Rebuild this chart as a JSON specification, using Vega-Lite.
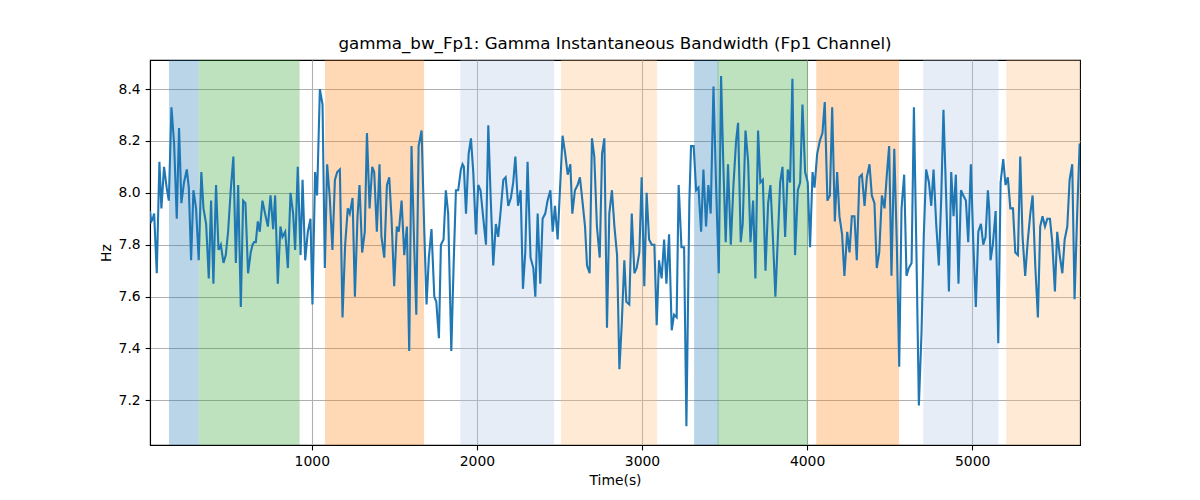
{
  "$schema": "https://vega.github.io/schema/vega-lite/v6.json",
  "autosize": {"type": "none"},
  "width": 930,
  "height": 385,
  "padding": {"left": 150, "top": 60, "right": 120, "bottom": 55},
  "background": "white",
  "title": {
    "text": "gamma_bw_Fp1: Gamma Instantaneous Bandwidth (Fp1 Channel)",
    "font": "DejaVu Sans",
    "fontSize": 16.7,
    "fontWeight": "normal",
    "color": "black",
    "offset": 7
  },
  "datasets": {
    "bands": [
      {"start": 138, "end": 313, "kind": "S1"},
      {"start": 320, "end": 923, "kind": "S2"},
      {"start": 1083, "end": 1677, "kind": "S3"},
      {"start": 1903, "end": 2465, "kind": "S4"},
      {"start": 2513, "end": 3089, "kind": "S5"},
      {"start": 3319, "end": 3461, "kind": "S1"},
      {"start": 3461, "end": 4002, "kind": "S2"},
      {"start": 4059, "end": 4554, "kind": "S3"},
      {"start": 4707, "end": 5156, "kind": "S4"},
      {"start": 5210, "end": 5653, "kind": "S5"}
    ],
    "signal": [
      {"t": 20, "hz": 7.93}, {"t": 28, "hz": 7.89}, {"t": 37, "hz": 7.90}, {"t": 45, "hz": 7.92},
      {"t": 61, "hz": 7.69}, {"t": 77, "hz": 8.12}, {"t": 89, "hz": 7.94}, {"t": 105, "hz": 8.10},
      {"t": 121, "hz": 8.02}, {"t": 134, "hz": 7.97}, {"t": 150, "hz": 8.33}, {"t": 166, "hz": 8.19},
      {"t": 182, "hz": 7.90}, {"t": 196, "hz": 8.25}, {"t": 210, "hz": 7.96}, {"t": 226, "hz": 8.04},
      {"t": 243, "hz": 8.09}, {"t": 255, "hz": 8.02}, {"t": 269, "hz": 7.74}, {"t": 283, "hz": 8.01},
      {"t": 299, "hz": 7.94}, {"t": 315, "hz": 7.74}, {"t": 331, "hz": 8.08}, {"t": 344, "hz": 7.94},
      {"t": 360, "hz": 7.88}, {"t": 376, "hz": 7.67}, {"t": 390, "hz": 7.97}, {"t": 404, "hz": 7.65},
      {"t": 420, "hz": 8.03}, {"t": 435, "hz": 7.78}, {"t": 449, "hz": 7.80}, {"t": 465, "hz": 7.73},
      {"t": 479, "hz": 7.76}, {"t": 493, "hz": 7.85}, {"t": 509, "hz": 8.01}, {"t": 525, "hz": 8.14},
      {"t": 540, "hz": 7.73}, {"t": 554, "hz": 8.03}, {"t": 570, "hz": 7.56}, {"t": 584, "hz": 7.97},
      {"t": 598, "hz": 7.96}, {"t": 614, "hz": 7.69}, {"t": 630, "hz": 7.77}, {"t": 641, "hz": 7.80},
      {"t": 651, "hz": 7.81}, {"t": 661, "hz": 7.81}, {"t": 673, "hz": 7.89}, {"t": 685, "hz": 7.85},
      {"t": 701, "hz": 7.97}, {"t": 717, "hz": 7.92}, {"t": 734, "hz": 7.87}, {"t": 750, "hz": 7.99},
      {"t": 766, "hz": 7.86}, {"t": 778, "hz": 7.99}, {"t": 794, "hz": 7.65}, {"t": 810, "hz": 7.87},
      {"t": 822, "hz": 7.83}, {"t": 839, "hz": 7.85}, {"t": 855, "hz": 7.71}, {"t": 871, "hz": 8.00},
      {"t": 887, "hz": 7.92}, {"t": 899, "hz": 7.78}, {"t": 915, "hz": 8.10}, {"t": 932, "hz": 7.76},
      {"t": 944, "hz": 8.05}, {"t": 960, "hz": 7.74}, {"t": 976, "hz": 7.85}, {"t": 992, "hz": 7.90},
      {"t": 1004, "hz": 7.57}, {"t": 1020, "hz": 8.08}, {"t": 1032, "hz": 7.99}, {"t": 1049, "hz": 8.40},
      {"t": 1065, "hz": 8.34}, {"t": 1079, "hz": 7.71}, {"t": 1093, "hz": 8.11}, {"t": 1109, "hz": 7.98},
      {"t": 1125, "hz": 7.78}, {"t": 1140, "hz": 8.05}, {"t": 1154, "hz": 8.08}, {"t": 1170, "hz": 8.09},
      {"t": 1186, "hz": 7.52}, {"t": 1202, "hz": 7.80}, {"t": 1218, "hz": 7.94}, {"t": 1230, "hz": 7.92},
      {"t": 1247, "hz": 7.98}, {"t": 1261, "hz": 7.60}, {"t": 1277, "hz": 7.91}, {"t": 1289, "hz": 8.03},
      {"t": 1305, "hz": 7.77}, {"t": 1321, "hz": 7.85}, {"t": 1334, "hz": 8.23}, {"t": 1350, "hz": 7.94},
      {"t": 1366, "hz": 8.10}, {"t": 1378, "hz": 8.08}, {"t": 1394, "hz": 7.85}, {"t": 1410, "hz": 8.11},
      {"t": 1422, "hz": 7.83}, {"t": 1439, "hz": 7.75}, {"t": 1455, "hz": 8.03}, {"t": 1469, "hz": 8.06},
      {"t": 1483, "hz": 7.90}, {"t": 1499, "hz": 7.64}, {"t": 1515, "hz": 7.87}, {"t": 1527, "hz": 7.85},
      {"t": 1544, "hz": 7.97}, {"t": 1560, "hz": 7.76}, {"t": 1576, "hz": 7.87}, {"t": 1590, "hz": 7.39},
      {"t": 1604, "hz": 8.18}, {"t": 1620, "hz": 7.80}, {"t": 1633, "hz": 7.53}, {"t": 1647, "hz": 8.18},
      {"t": 1665, "hz": 8.24}, {"t": 1681, "hz": 7.86}, {"t": 1695, "hz": 7.57}, {"t": 1709, "hz": 7.75},
      {"t": 1725, "hz": 7.86}, {"t": 1742, "hz": 7.60}, {"t": 1754, "hz": 7.58}, {"t": 1770, "hz": 7.44},
      {"t": 1782, "hz": 7.80}, {"t": 1798, "hz": 7.82}, {"t": 1812, "hz": 8.01}, {"t": 1826, "hz": 7.92},
      {"t": 1845, "hz": 7.39}, {"t": 1859, "hz": 7.72}, {"t": 1873, "hz": 8.01}, {"t": 1887, "hz": 8.01},
      {"t": 1903, "hz": 8.09}, {"t": 1913, "hz": 8.11}, {"t": 1921, "hz": 8.10}, {"t": 1934, "hz": 7.92},
      {"t": 1950, "hz": 8.15}, {"t": 1964, "hz": 8.21}, {"t": 1978, "hz": 8.08}, {"t": 1994, "hz": 7.84},
      {"t": 2008, "hz": 8.03}, {"t": 2022, "hz": 8.01}, {"t": 2039, "hz": 7.90}, {"t": 2055, "hz": 7.80},
      {"t": 2069, "hz": 8.26}, {"t": 2083, "hz": 7.99}, {"t": 2099, "hz": 7.72}, {"t": 2115, "hz": 7.88},
      {"t": 2129, "hz": 7.83}, {"t": 2144, "hz": 7.93}, {"t": 2160, "hz": 8.05}, {"t": 2174, "hz": 8.06},
      {"t": 2190, "hz": 7.95}, {"t": 2206, "hz": 7.98}, {"t": 2220, "hz": 8.04}, {"t": 2233, "hz": 8.14},
      {"t": 2249, "hz": 7.95}, {"t": 2265, "hz": 8.01}, {"t": 2279, "hz": 7.63}, {"t": 2293, "hz": 7.77},
      {"t": 2307, "hz": 8.12}, {"t": 2325, "hz": 7.75}, {"t": 2342, "hz": 7.71}, {"t": 2354, "hz": 7.60},
      {"t": 2368, "hz": 7.92}, {"t": 2384, "hz": 7.65}, {"t": 2398, "hz": 7.90}, {"t": 2414, "hz": 7.92},
      {"t": 2428, "hz": 7.97}, {"t": 2445, "hz": 8.01}, {"t": 2459, "hz": 7.85}, {"t": 2473, "hz": 7.95},
      {"t": 2489, "hz": 7.82}, {"t": 2503, "hz": 8.01}, {"t": 2519, "hz": 8.22}, {"t": 2535, "hz": 8.15},
      {"t": 2550, "hz": 8.07}, {"t": 2566, "hz": 8.11}, {"t": 2578, "hz": 7.92}, {"t": 2594, "hz": 8.01},
      {"t": 2610, "hz": 8.03}, {"t": 2624, "hz": 8.06}, {"t": 2639, "hz": 7.97}, {"t": 2655, "hz": 7.87},
      {"t": 2667, "hz": 7.72}, {"t": 2683, "hz": 7.69}, {"t": 2697, "hz": 8.21}, {"t": 2711, "hz": 8.14},
      {"t": 2727, "hz": 7.87}, {"t": 2744, "hz": 7.75}, {"t": 2758, "hz": 8.15}, {"t": 2772, "hz": 8.21},
      {"t": 2788, "hz": 7.48}, {"t": 2802, "hz": 7.92}, {"t": 2818, "hz": 8.01}, {"t": 2833, "hz": 7.87},
      {"t": 2849, "hz": 7.76}, {"t": 2863, "hz": 7.32}, {"t": 2877, "hz": 7.49}, {"t": 2893, "hz": 7.74},
      {"t": 2905, "hz": 7.58}, {"t": 2923, "hz": 7.57}, {"t": 2938, "hz": 7.92}, {"t": 2954, "hz": 7.69},
      {"t": 2968, "hz": 7.71}, {"t": 2984, "hz": 7.77}, {"t": 2998, "hz": 8.06}, {"t": 3014, "hz": 7.64},
      {"t": 3028, "hz": 8.00}, {"t": 3043, "hz": 7.82}, {"t": 3059, "hz": 7.80}, {"t": 3075, "hz": 7.80},
      {"t": 3089, "hz": 7.49}, {"t": 3103, "hz": 7.74}, {"t": 3119, "hz": 7.67}, {"t": 3134, "hz": 7.82},
      {"t": 3148, "hz": 7.65}, {"t": 3164, "hz": 7.84}, {"t": 3180, "hz": 7.47}, {"t": 3194, "hz": 7.53},
      {"t": 3210, "hz": 7.52}, {"t": 3222, "hz": 8.03}, {"t": 3239, "hz": 7.79}, {"t": 3255, "hz": 7.79},
      {"t": 3269, "hz": 7.10}, {"t": 3287, "hz": 7.97}, {"t": 3297, "hz": 8.18}, {"t": 3313, "hz": 8.18},
      {"t": 3328, "hz": 8.01}, {"t": 3342, "hz": 8.02}, {"t": 3358, "hz": 7.85}, {"t": 3372, "hz": 8.09},
      {"t": 3388, "hz": 7.87}, {"t": 3402, "hz": 8.03}, {"t": 3416, "hz": 7.92}, {"t": 3433, "hz": 8.41},
      {"t": 3449, "hz": 8.02}, {"t": 3465, "hz": 7.69}, {"t": 3479, "hz": 8.45}, {"t": 3493, "hz": 8.10},
      {"t": 3507, "hz": 7.81}, {"t": 3521, "hz": 8.11}, {"t": 3538, "hz": 7.80}, {"t": 3554, "hz": 8.03},
      {"t": 3570, "hz": 8.20}, {"t": 3582, "hz": 8.27}, {"t": 3598, "hz": 7.81}, {"t": 3610, "hz": 7.88},
      {"t": 3627, "hz": 8.24}, {"t": 3643, "hz": 8.12}, {"t": 3657, "hz": 7.81}, {"t": 3673, "hz": 7.97},
      {"t": 3687, "hz": 7.67}, {"t": 3703, "hz": 8.24}, {"t": 3717, "hz": 8.04}, {"t": 3732, "hz": 8.05},
      {"t": 3748, "hz": 7.70}, {"t": 3764, "hz": 7.96}, {"t": 3778, "hz": 8.03}, {"t": 3792, "hz": 7.84},
      {"t": 3808, "hz": 7.60}, {"t": 3837, "hz": 8.04}, {"t": 3851, "hz": 8.10}, {"t": 3867, "hz": 7.83},
      {"t": 3883, "hz": 8.09}, {"t": 3897, "hz": 8.04}, {"t": 3911, "hz": 8.44}, {"t": 3927, "hz": 7.76},
      {"t": 3944, "hz": 8.01}, {"t": 3958, "hz": 8.04}, {"t": 3972, "hz": 8.34}, {"t": 3988, "hz": 8.08},
      {"t": 4004, "hz": 8.04}, {"t": 4018, "hz": 7.79}, {"t": 4033, "hz": 8.08}, {"t": 4045, "hz": 8.02},
      {"t": 4061, "hz": 8.15}, {"t": 4077, "hz": 8.20}, {"t": 4093, "hz": 8.23}, {"t": 4107, "hz": 8.35},
      {"t": 4123, "hz": 7.97}, {"t": 4138, "hz": 7.99}, {"t": 4152, "hz": 8.33}, {"t": 4168, "hz": 7.89},
      {"t": 4182, "hz": 8.08}, {"t": 4196, "hz": 7.91}, {"t": 4212, "hz": 7.84}, {"t": 4226, "hz": 7.68},
      {"t": 4243, "hz": 7.85}, {"t": 4257, "hz": 7.77}, {"t": 4271, "hz": 7.91}, {"t": 4287, "hz": 7.91},
      {"t": 4301, "hz": 7.74}, {"t": 4317, "hz": 8.06}, {"t": 4332, "hz": 8.07}, {"t": 4348, "hz": 7.95},
      {"t": 4362, "hz": 8.06}, {"t": 4378, "hz": 8.11}, {"t": 4392, "hz": 7.99}, {"t": 4408, "hz": 7.96},
      {"t": 4422, "hz": 7.71}, {"t": 4437, "hz": 7.77}, {"t": 4453, "hz": 7.99}, {"t": 4469, "hz": 7.94},
      {"t": 4483, "hz": 8.07}, {"t": 4497, "hz": 8.18}, {"t": 4511, "hz": 7.68}, {"t": 4528, "hz": 8.17},
      {"t": 4544, "hz": 7.79}, {"t": 4558, "hz": 7.33}, {"t": 4572, "hz": 7.94}, {"t": 4588, "hz": 8.07},
      {"t": 4602, "hz": 7.68}, {"t": 4616, "hz": 7.71}, {"t": 4633, "hz": 7.73}, {"t": 4647, "hz": 8.33},
      {"t": 4663, "hz": 7.74}, {"t": 4677, "hz": 7.18}, {"t": 4693, "hz": 7.46}, {"t": 4707, "hz": 7.84},
      {"t": 4721, "hz": 8.09}, {"t": 4738, "hz": 8.04}, {"t": 4752, "hz": 7.95}, {"t": 4766, "hz": 8.09},
      {"t": 4782, "hz": 7.88}, {"t": 4798, "hz": 7.72}, {"t": 4812, "hz": 7.97}, {"t": 4826, "hz": 8.32},
      {"t": 4843, "hz": 7.97}, {"t": 4859, "hz": 7.62}, {"t": 4873, "hz": 8.08}, {"t": 4887, "hz": 7.91},
      {"t": 4901, "hz": 8.07}, {"t": 4917, "hz": 7.65}, {"t": 4932, "hz": 8.01}, {"t": 4946, "hz": 7.99},
      {"t": 4962, "hz": 7.97}, {"t": 4976, "hz": 7.81}, {"t": 4992, "hz": 8.11}, {"t": 5006, "hz": 7.82},
      {"t": 5022, "hz": 7.56}, {"t": 5037, "hz": 7.85}, {"t": 5053, "hz": 7.88}, {"t": 5067, "hz": 7.80},
      {"t": 5081, "hz": 7.83}, {"t": 5095, "hz": 8.01}, {"t": 5103, "hz": 7.94}, {"t": 5111, "hz": 7.74},
      {"t": 5125, "hz": 7.80}, {"t": 5142, "hz": 7.93}, {"t": 5158, "hz": 7.42}, {"t": 5172, "hz": 8.04},
      {"t": 5188, "hz": 8.13}, {"t": 5202, "hz": 8.03}, {"t": 5216, "hz": 8.06}, {"t": 5231, "hz": 7.94},
      {"t": 5247, "hz": 7.94}, {"t": 5261, "hz": 7.77}, {"t": 5277, "hz": 7.76}, {"t": 5291, "hz": 8.14},
      {"t": 5305, "hz": 7.83}, {"t": 5321, "hz": 7.68}, {"t": 5336, "hz": 7.81}, {"t": 5352, "hz": 7.92},
      {"t": 5366, "hz": 7.99}, {"t": 5382, "hz": 7.72}, {"t": 5398, "hz": 7.52}, {"t": 5412, "hz": 7.87},
      {"t": 5426, "hz": 7.91}, {"t": 5441, "hz": 7.87}, {"t": 5455, "hz": 7.90}, {"t": 5471, "hz": 7.90},
      {"t": 5485, "hz": 7.81}, {"t": 5501, "hz": 7.62}, {"t": 5515, "hz": 7.85}, {"t": 5530, "hz": 7.76},
      {"t": 5546, "hz": 7.69}, {"t": 5560, "hz": 7.82}, {"t": 5576, "hz": 7.87}, {"t": 5590, "hz": 8.05},
      {"t": 5606, "hz": 8.11}, {"t": 5620, "hz": 7.59}, {"t": 5637, "hz": 7.94}, {"t": 5651, "hz": 8.19}
    ]
  },
  "layer": [
    {
      "data": {"name": "bands"},
      "mark": {"type": "rect", "strokeWidth": 1, "clip": true},
      "encoding": {
        "x": {"field": "start", "type": "quantitative"},
        "x2": {"field": "end"},
        "color": {
          "field": "kind",
          "type": "nominal",
          "legend": null,
          "scale": {
            "domain": ["S1", "S2", "S3", "S4", "S5"],
            "range": ["#1f77b4", "#2ca02c", "#ff7f0e", "#aec7e8", "#ffbb78"]
          }
        },
        "stroke": {
          "field": "kind",
          "type": "nominal",
          "legend": null,
          "scale": {
            "domain": ["S1", "S2", "S3", "S4", "S5"],
            "range": ["#1f77b4", "#2ca02c", "#ff7f0e", "#aec7e8", "#ffbb78"]
          }
        },
        "opacity": {
          "field": "kind",
          "type": "nominal",
          "legend": null,
          "scale": {
            "domain": ["S1", "S2", "S3", "S4", "S5"],
            "range": [0.3, 0.3, 0.3, 0.32, 0.32]
          }
        }
      }
    },
    {
      "data": {"name": "signal"},
      "mark": {"type": "line", "color": "#1f77b4", "strokeWidth": 2.1, "clip": true},
      "encoding": {
        "x": {
          "field": "t",
          "type": "quantitative",
          "title": "Time(s)",
          "scale": {"domain": [20, 5653], "nice": false, "zero": false},
          "axis": {"values": [1000, 2000, 3000, 4000, 5000], "format": "d"}
        },
        "y": {
          "field": "hz",
          "type": "quantitative",
          "title": "Hz",
          "scale": {"domain": [7.028, 8.512], "nice": false, "zero": false},
          "axis": {"values": [7.2, 7.4, 7.6, 7.8, 8.0, 8.2, 8.4], "format": ".1f"}
        }
      }
    }
  ],
  "config": {
    "view": {"stroke": "black", "strokeWidth": 1.1},
    "axis": {
      "grid": true,
      "gridColor": "#b0b0b0",
      "gridWidth": 1.1,
      "domainColor": "black",
      "domainWidth": 1.1,
      "tickColor": "black",
      "tickWidth": 1.1,
      "tickSize": 4.9,
      "labelPadding": 4.9,
      "labelFont": "DejaVu Sans",
      "labelFontSize": 13.9,
      "labelColor": "black",
      "titleFont": "DejaVu Sans",
      "titleFontSize": 13.9,
      "titleFontWeight": "normal",
      "titleColor": "black",
      "titlePadding": 5
    }
  }
}
